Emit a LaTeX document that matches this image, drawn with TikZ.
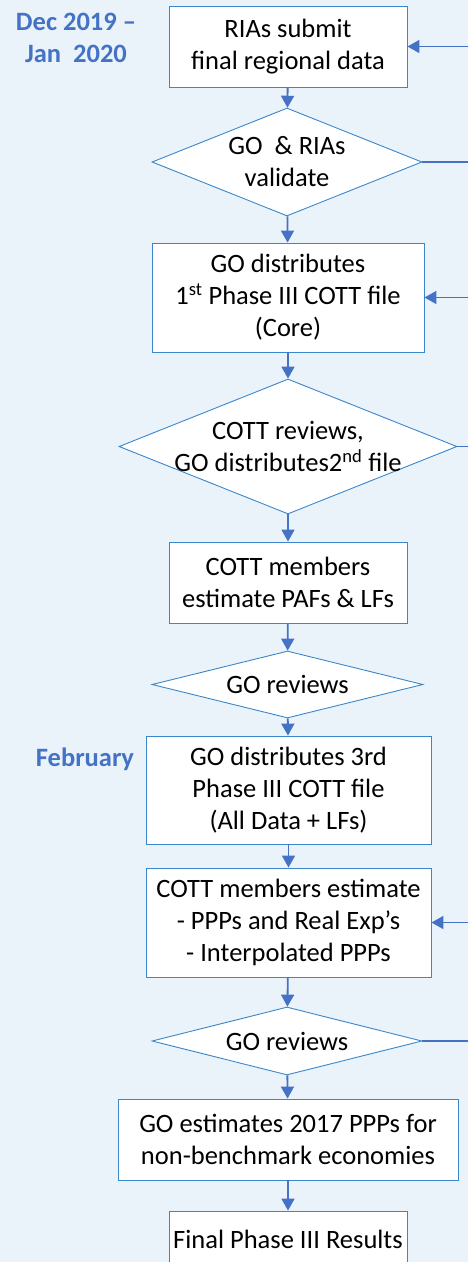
\documentclass[tikz,border=0pt]{standalone}
\usepackage{fontspec}
\setmainfont{Carlito}
\usepackage{xcolor}
\usepackage{tikz}
\usetikzlibrary{positioning,shapes.geometric,arrows.meta}

\definecolor{bgblue}{HTML}{EBF3FA}
\definecolor{lineblue}{HTML}{3A87CC}
\definecolor{arrowblue}{HTML}{4472C4}
\newcommand{\flowfont}{\fontsize{26.5pt}{32pt}\selectfont}

\tikzset{
  stepbox/.style={draw=lineblue, fill=white, line width=0.9pt, align=center, inner sep=0pt, font=\flowfont},
  decision/.style={diamond, draw=lineblue, fill=white, line width=0.9pt, inner sep=0pt},
  flow/.style={draw=arrowblue, line width=1.8pt, -{Triangle[length=12pt,width=13pt]}},
  loopline/.style={draw=arrowblue, line width=1.8pt},
  month/.style={text=arrowblue, font=\flowfont\bfseries, align=center},
}

\begin{document}
\begin{tikzpicture}[x=1pt,y=-1pt]
      \useasboundingbox (0,0) rectangle (468,1262);
      \clip (0,0) rectangle (468,1262);
      \fill[bgblue] (0,0) rectangle (468,1262);
      \coordinate (redge) at (468,0);
      % months
      \node[month] (dec) at (76,37.5) {Dec 2019 --\\Jan \ 2020};
      \node[month] (feb) at (85,759) {February};
      % steps
      \node[stepbox, minimum width=238pt, minimum height=81pt] (submit) at (288,46.5) {RIAs submit\\final regional data};
      \node[decision, minimum width=270pt, minimum height=108pt,
            label={[font=\flowfont,align=center]center:{GO \ \& RIAs\\validate}}] (validate) at (287,162) {};
      \node[stepbox, minimum width=272pt, minimum height=109pt] (first) at (288,297.5) {GO distributes\\1\textsuperscript{st} Phase III COTT file\\(Core)};
      \node[decision, minimum width=338pt, minimum height=135pt,
            label={[font=\flowfont,align=center]center:{COTT reviews,\\GO distributes2\textsuperscript{nd} file}}] (second) at (288,446.5) {};
      \node[stepbox, minimum width=238pt, minimum height=81pt] (paf) at (288,582.5) {COTT members\\estimate PAFs \& LFs};
      \node[decision, minimum width=271pt, minimum height=67pt,
            label={[font=\flowfont]center:GO reviews}] (review1) at (287.5,684.5) {};
      \node[stepbox, minimum width=285pt, minimum height=108pt] (third) at (288.5,790) {GO distributes 3rd\\Phase III COTT file\\(All Data + LFs)};
      \node[stepbox, minimum width=285pt, minimum height=109pt] (ppp) at (288.5,922.5) {COTT members estimate\\- PPPs and Real Exp’s\\- Interpolated PPPs};
      \node[decision, minimum width=270pt, minimum height=68pt,
            label={[font=\flowfont]center:GO reviews}] (review2) at (287,1041) {};
      \node[stepbox, minimum width=340pt, minimum height=81pt] (nonbench) at (288,1139.5) {GO estimates 2017 PPPs for\\non-benchmark economies};
      \node[stepbox, minimum width=238pt, minimum height=56pt] (final) at (288,1239) {Final Phase III Results};
      % arrows down
      \draw[flow] (submit) -- (validate);
      \draw[flow] (validate) -- (first);
      \draw[flow] (first) -- (second);
      \draw[flow] (second) -- (paf);
      \draw[flow] (paf) -- (review1);
      \draw[flow] (review1) -- (third);
      \draw[flow] (third) -- (ppp);
      \draw[flow] (ppp) -- (review2);
      \draw[flow] (review2) -- (nonbench);
      \draw[flow] (nonbench) -- (final);
      % loops on the right
      \draw[loopline] (validate.east) -- (validate.east -| redge);
      \draw[loopline] (second.east) -- (second.east -| redge);
      \draw[loopline] (review2.east) -- (review2.east -| redge);
      \draw[flow] (submit.east -| redge) -- (submit.east);
      \draw[flow] (first.east -| redge) -- (first.east);
      \draw[flow] (ppp.east -| redge) -- (ppp.east);
    \end{tikzpicture}
\end{document}
